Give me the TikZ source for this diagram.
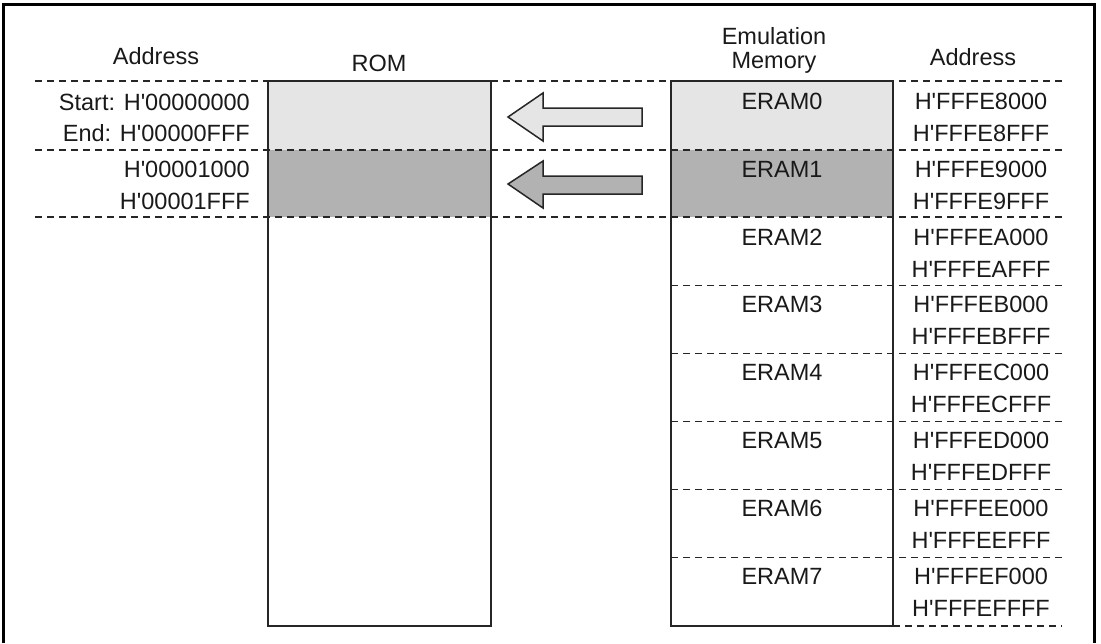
\documentclass[tikz,border=0pt]{standalone}
\usepackage{fontspec}
\setmainfont{Liberation Sans}
\newcommand\hq{H\textquotesingle}
\begin{document}
\begin{tikzpicture}[x=1pt,y=-1pt,
  txt/.style={font=\fontsize{23.5}{24}\selectfont, inner sep=0pt, anchor=base, text=black!90},
  txtr/.style={txt, anchor=base east},
  dline/.style={dash pattern=on 7pt off 5pt, line width=1.4pt, draw=black!85},
  box/.style={line width=2pt, draw=black!85},
  lightfill/.style={fill=black!10},
  darkfill/.style={fill=black!30},
  blockarrow/.style={line width=1.5pt, draw=black!85, line join=miter}]
\useasboundingbox (0,0) rectangle (1101,643);
% outer frame
\draw[line width=3pt] (3,643) -- (3,4) -- (1094,4) -- (1094,643);
% fills
\fill[lightfill] (268,81) rectangle (491,150);
\fill[darkfill] (268,150) rectangle (491,217);
\fill[lightfill] (671,81) rectangle (893,150);
\fill[darkfill] (671,150) rectangle (893,217);
% dashed row lines
\draw[dline] (35,81) -- (1062,81);
\draw[dline] (35,150) -- (1062,150);
\draw[dline] (35,217) -- (1062,217);
\foreach \k in {3,...,7}{
  \draw[dline] (671,{81+68.1*\k}) -- (1062,{81+68.1*\k});
}
\draw[dline] (893,626) -- (1062,626);
% boxes
\draw[box] (268,81) rectangle (491,626);
\draw[box] (671,81) rectangle (893,626);
% headers
\node[txt] (addrL) at (156,64) {Address};
\node[txt] (rom) at (379,71) {ROM};
\node[txt] (emu1) at (774,44) {Emulation};
\node[txt] (emu2) at (774,68) {Memory};
\node[txt] (addrR) at (973,65) {Address};
% left addresses
\node[txtr] (ls) at (250,110) {Start: \hq00000000};
\node[txtr] (le) at (250,141.5) {End: \hq00000FFF};
\node[txtr] (l1s) at (250,177) {\hq00001000};
\node[txtr] (l1e) at (250,209) {\hq00001FFF};
% ERAM labels and right addresses
\foreach \h [count=\i from 0] in {8,9,A,B,C,D,E,F}{
  \node[txt] (eram\i) at (782,{109.5+67.8*\i}) {ERAM\i};
  \node[txt] (rs\i) at (981,{109.5+67.8*\i}) {\hq FFFE\h000};
  \node[txt] (re\i) at (981,{141.5+67.8*\i}) {\hq FFFE\h FFF};
}
% block arrows
\draw[blockarrow, lightfill] (508,117) -- (543,93) -- (543,108) -- (642,108) -- (642,126) -- (543,126) -- (543,141) -- cycle;
\draw[blockarrow, darkfill] (508,184) -- (543,161) -- (543,176) -- (642,176) -- (642,194) -- (543,194) -- (543,208) -- cycle;
\end{tikzpicture}
\end{document}
